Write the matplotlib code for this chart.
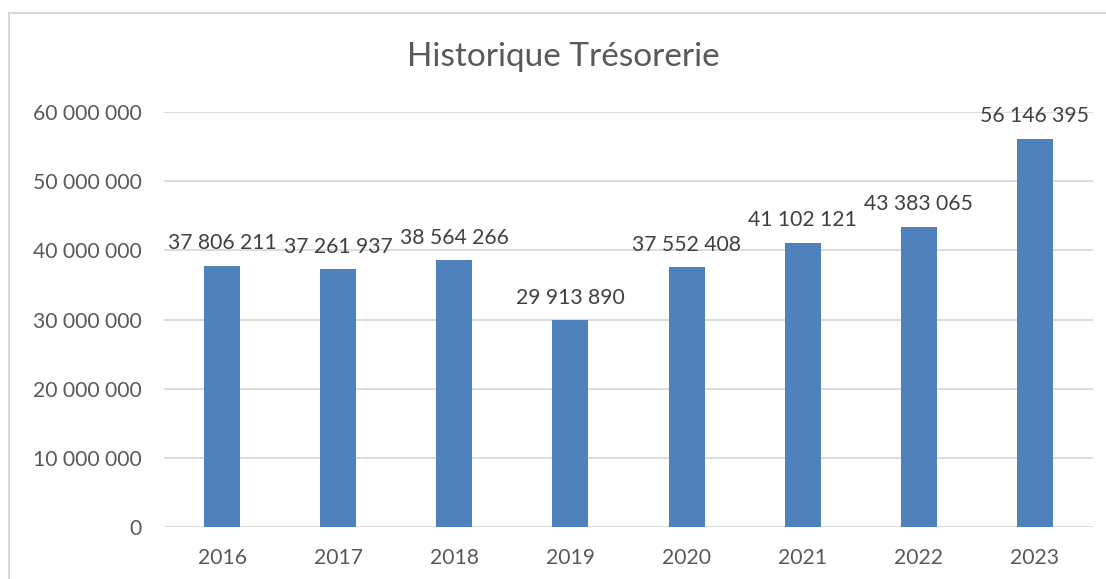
import matplotlib
matplotlib.use("Agg")
import matplotlib.pyplot as plt
from matplotlib.lines import Line2D
from matplotlib.ticker import FuncFormatter

plt.rcParams['font.family'] = ['Lato', 'DejaVu Sans']

years = ["2016", "2017", "2018", "2019", "2020", "2021", "2022", "2023"]
values = [37806211, 37261937, 38564266, 29913890, 37552408, 41102121, 43383065, 56146395]
yticks = [0, 10000000, 20000000, 30000000, 40000000, 50000000, 60000000]
title = "Historique Trésorerie"

W, H = 1106, 579
fig = plt.figure(figsize=(W / 100, H / 100), dpi=100)
fig.patch.set_facecolor("white")

ax = fig.add_axes([164 / W, 52 / H, (1093 - 164) / W, (527 - 112) / H])

def fmt(v):
    return f"{int(round(v)):,}".replace(",", " ")

x = list(range(len(years)))
bars = ax.bar(x, values, width=0.31, color="#4F81BD", zorder=3)
ax.set_xlim(-0.5, len(years) - 0.5)
ax.set_ylim(0, 60000000)
ax.set_yticks(yticks)
ax.yaxis.set_major_formatter(FuncFormatter(lambda v, p: fmt(v)))
ax.set_xticks(x)
ax.set_xticklabels(years)

for s in ax.spines.values():
    s.set_visible(False)
ax.grid(axis="y", color="#D9D9D9", linewidth=1.3, zorder=0)
ax.tick_params(axis="both", length=0, colors="#595959", labelsize=15.2)
ax.tick_params(axis="y", pad=16)
ax.tick_params(axis="x", pad=15)

for xi, v in zip(x, values):
    ax.annotate(fmt(v), (xi, v), xytext=(0, 9), textcoords="offset points",
                ha="center", va="bottom", fontsize=15.2, color="#404040", zorder=4)

fig.text(563.5 / W, 1 - 57 / H, title, ha="center", va="center",
         fontsize=24, color="#595959")

fig.add_artist(Line2D([9 / W, 9 / W], [0, 1 - 13 / H], color="#D9D9D9", linewidth=1.5,
                      transform=fig.transFigure))
fig.add_artist(Line2D([9 / W, 1], [1 - 13 / H, 1 - 13 / H], color="#D9D9D9", linewidth=1.5,
                      transform=fig.transFigure))

fig.savefig("out.png", dpi=100, facecolor="white")
